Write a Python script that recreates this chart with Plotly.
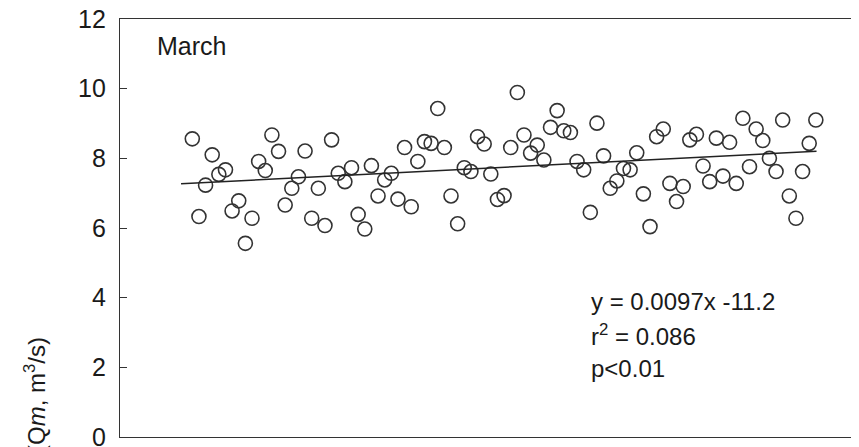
import plotly.graph_objects as go

# Data
years = list(range(1906, 2001))
discharge = [8.56, 6.33, 7.23, 8.10, 7.54, 7.67, 6.49, 6.78, 5.56, 6.28,
             7.91, 7.65, 8.67, 8.20, 6.66, 7.14, 7.47, 8.21, 6.28, 7.14,
             6.07, 8.53, 7.57, 7.33, 7.73, 6.39, 5.97, 7.79, 6.92, 7.38,
             7.57, 6.83, 8.31, 6.61, 7.91, 8.48, 8.43, 9.43, 8.31, 6.92,
             6.12, 7.73, 7.62, 8.62, 8.41, 7.55, 6.82, 6.93, 8.31, 9.89,
             8.67, 8.15, 8.38, 7.95, 8.89, 9.37, 8.79, 8.74, 7.91, 7.67,
             6.45, 9.01, 8.07, 7.14, 7.35, 7.71, 7.67, 8.16, 6.98, 6.04,
             8.62, 8.84, 7.28, 6.76, 7.19, 8.53, 8.69, 7.78, 7.33, 8.58,
             7.49, 8.46, 7.28, 9.15, 7.76, 8.84, 8.51, 8.00, 7.62, 9.10,
             6.92, 6.28, 7.62, 8.43, 9.10]
slope = 0.0097
intercept = -11.2
trend_years = [1904.3, 2000.1]
trend_vals = [slope * x + intercept for x in trend_years]
y_ticks = [0, 2, 4, 6, 8, 10, 12]

FONT = "Liberation Sans, Arial, sans-serif"
TXT = "#1a1a1a"

fig = go.Figure()
fig.add_trace(go.Scatter(
    x=years, y=discharge, mode="markers",
    marker=dict(symbol="circle-open", size=14, color="#333333",
                line=dict(width=1.6, color="#333333")),
    showlegend=False, hoverinfo="skip"))
fig.add_trace(go.Scatter(
    x=trend_years, y=trend_vals, mode="lines",
    line=dict(color="#222222", width=1.5),
    showlegend=False, hoverinfo="skip"))

fig.update_layout(
    width=859, height=447,
    margin=dict(l=112, r=16, t=11, b=18, autoexpand=False),
    plot_bgcolor="white", paper_bgcolor="white",
    font=dict(family=FONT, color=TXT),
    xaxis=dict(range=[1895.1, 2005.3], showticklabels=False, ticks="",
               showline=True, linecolor="#333333", linewidth=1.3, mirror=True,
               showgrid=False, zeroline=False, automargin=False),
    yaxis=dict(range=[0, 12], tickvals=y_ticks, ticks="inside", ticklen=7,
               tickcolor="#333333", tickwidth=1.3,
               showline=True, linecolor="#333333", linewidth=1.3, mirror=True,
               showgrid=False, zeroline=False, ticklabelstandoff=8,
               ticklabeloverflow="allow", automargin=False,
               tickfont=dict(family=FONT, size=25, color=TXT)),
)

def px_x(p):
    return (p - 120) / 731.0

def px_y(p):
    return (437 - p) / 418.0

fig.add_annotation(text="March", xref="paper", yref="paper",
                   x=px_x(155), y=px_y(46), xanchor="left", yanchor="middle",
                   showarrow=False, font=dict(family=FONT, size=25, color=TXT))
stats = ["y = 0.0097x -11.2", "r<sup>2</sup> = 0.086", "p<0.01"]
stat_y = [301.7, 335, 368]
for t, yy in zip(stats, stat_y):
    fig.add_annotation(text=t, xref="paper", yref="paper",
                       x=px_x(589), y=px_y(yy), xanchor="left", yanchor="middle",
                       showarrow=False, font=dict(family=FONT, size=24, color=TXT))
fig.add_annotation(text="(Q<i>m</i>, m<sup>3</sup>/s)", xref="paper", yref="paper",
                   x=px_x(35), y=px_y(335), xanchor="center", yanchor="top",
                   textangle=-90, showarrow=False,
                   font=dict(family=FONT, size=24, color=TXT))

fig.write_html("out.html")
